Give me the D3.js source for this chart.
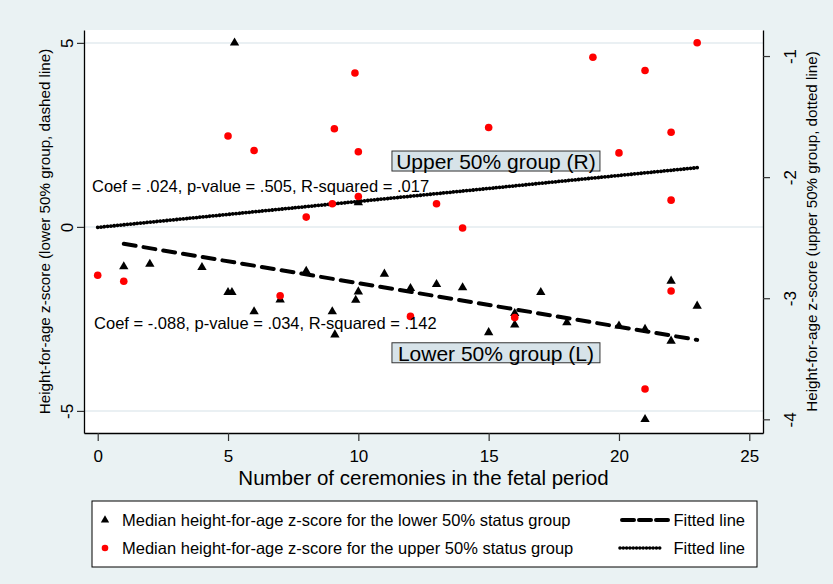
<!DOCTYPE html>
<html>
<head>
<meta charset="utf-8">
<script src="https://d3js.org/d3.v7.min.js"></script>
<style>
body { margin: 0; background: #EAF2F3; }
text { font-family: "Liberation Sans", Arial, sans-serif; fill: #000; }
</style>
</head>
<body>
<script>
// lower 50% group (left axis, triangles)
var lowerX = [1, 2, 4, 5, 5.15, 5.25, 6, 7, 8, 9, 9.1, 9.9, 10, 10, 11, 12, 13, 14, 15, 16, 16, 17, 18, 20, 21, 21, 22, 22, 23];
var lowerY = [-1.08, -1.01, -1.1, -1.78, -1.78, 5.0, -2.3, -1.98, -1.2, -2.3, -2.93, -1.99, -1.76, 0.66, -1.28, -1.67, -1.56, -1.65, -2.87, -2.35, -2.66, -1.78, -2.6, -2.69, -2.78, -5.23, -1.47, -3.1, -2.15];

// upper 50% group (right axis, red dots)
var upperX = [0, 1, 5, 6, 7, 8, 9, 9.08, 9.87, 10, 10, 12, 13, 14, 15, 16, 19, 20, 21, 21, 22, 22, 22, 23];
var upperY = [-2.81, -2.86, -1.66, -1.78, -2.98, -2.33, -2.22, -1.6, -1.14, -1.79, -2.16, -3.15, -2.22, -2.42, -1.59, -3.16, -1.01, -1.8, -1.12, -3.75, -1.63, -2.19, -2.94, -0.89];

// fitted lines (endpoints)
var fitLowerX = [1, 23], fitLowerY = [-0.46, -3.07];
var fitUpperX = [0, 23], fitUpperY = [-2.415, -1.922];

var xTicks = [0, 5, 10, 15, 20, 25];
var yLeftTicks = [-5, 0, 5];
var yRightTicks = [-4, -3, -2, -1];

var width = 833;
var height = 584;

var svgContainer = d3.select("body").append("svg")
    .attr("height", height)
    .attr("width", width);

var plot_left = 84, plot_right = 763, plot_top = 30, plot_bottom = 433;

var x = d3.scaleLinear().domain([-0.526, 25.526]).range([plot_left, plot_right]),
    yL = d3.scaleLinear().domain([-5.6, 5.35]).range([plot_bottom, plot_top]),
    yR = d3.scaleLinear().domain([-4.113, -0.785]).range([plot_bottom, plot_top]);

// plain hyphen minus like the original
var fmt = function (d) { return String(d); };

svgContainer.append("rect")
    .attr("width", width).attr("height", height)
    .attr("fill", "#EAF2F3");

svgContainer.append("rect")
    .attr("x", plot_left).attr("y", plot_top)
    .attr("width", plot_right - plot_left).attr("height", plot_bottom - plot_top)
    .attr("fill", "#fff");

// gridlines
svgContainer.selectAll(".grid")
    .data(yLeftTicks)
    .enter()
    .append("line")
    .attr("x1", plot_left).attr("x2", plot_right)
    .attr("y1", function (d) { return yL(d); })
    .attr("y2", function (d) { return yL(d); })
    .attr("stroke", "#E3EBEF")
    .attr("stroke-width", 1.5);

// axes
var leftAxis = svgContainer.append("g")
    .attr("transform", "translate(" + plot_left + ",0)")
    .call(d3.axisLeft(yL).tickValues(yLeftTicks).tickSize(7).tickSizeOuter(0).tickFormat(fmt));
leftAxis.selectAll("text")
    .attr("x", 0).attr("dy", 0)
    .attr("text-anchor", "middle")
    .attr("transform", "translate(-11,0) rotate(-90)");

var rightAxis = svgContainer.append("g")
    .attr("transform", "translate(" + plot_right + ",0)")
    .call(d3.axisRight(yR).tickValues(yRightTicks).tickSize(7).tickSizeOuter(0).tickFormat(fmt));
rightAxis.selectAll("text")
    .attr("x", 0).attr("dy", 0)
    .attr("text-anchor", "middle")
    .attr("transform", "translate(33,0) rotate(-90)");

var bottomAxis = svgContainer.append("g")
    .attr("transform", "translate(0," + plot_bottom + ")")
    .call(d3.axisBottom(x).tickValues(xTicks).tickSize(8).tickSizeOuter(0).tickFormat(fmt));
bottomAxis.selectAll("text")
    .attr("y", 29).attr("dy", 0);

svgContainer.selectAll(".domain")
    .attr("stroke", "#000")
    .attr("stroke-width", 1.3);
svgContainer.selectAll(".tick line")
    .attr("stroke", "#333")
    .attr("stroke-width", 1.2);
svgContainer.selectAll(".tick text")
    .style("font-size", "17px")
    .style("font-family", "Liberation Sans, Arial, sans-serif")
    .attr("fill", "#000");

// axis titles
svgContainer.append("text")
    .attr("transform", "translate(50," + ((plot_top + plot_bottom) / 2) + ") rotate(-90)")
    .attr("text-anchor", "middle")
    .style("font-size", "15.2px")
    .text("Height-for-age z-score (lower 50% group, dashed line)");

svgContainer.append("text")
    .attr("transform", "translate(817," + ((plot_top + plot_bottom) / 2) + ") rotate(-90)")
    .attr("text-anchor", "middle")
    .style("font-size", "15.2px")
    .text("Height-for-age z-score (upper 50% group, dotted line)");

svgContainer.append("text")
    .attr("x", (plot_left + plot_right) / 2)
    .attr("y", 485)
    .attr("text-anchor", "middle")
    .style("font-size", "20.5px")
    .text("Number of ceremonies in the fetal period");

// fitted lines
var lowerLine = d3.line()
    .x(function (d) { return x(d[0]); })
    .y(function (d) { return yL(d[1]); });
var upperLine = d3.line()
    .x(function (d) { return x(d[0]); })
    .y(function (d) { return yR(d[1]); });

svgContainer.append("path")
    .attr("d", upperLine(d3.zip(fitUpperX, fitUpperY)))
    .attr("fill", "none")
    .attr("stroke", "#000")
    .attr("stroke-width", 3.8)
    .attr("stroke-linecap", "round")
    .attr("stroke-dasharray", "0.01,3.3");

svgContainer.append("path")
    .attr("d", lowerLine(d3.zip(fitLowerX, fitLowerY)))
    .attr("fill", "none")
    .attr("stroke", "#000")
    .attr("stroke-width", 4)
    .attr("stroke-linecap", "round")
    .attr("stroke-dasharray", "12,8");

// points
svgContainer.selectAll(".tri")
    .data(d3.zip(lowerX, lowerY))
    .enter()
    .append("path")
    .attr("class", "tri")
    .attr("d", d3.symbol(d3.symbolTriangle).size(38))
    .attr("transform", function (d) {
        return "translate(" + x(d[0]) + "," + yL(d[1]) + ")";
    })
    .attr("fill", "#000");

svgContainer.selectAll(".dot")
    .data(d3.zip(upperX, upperY))
    .enter()
    .append("circle")
    .attr("class", "dot")
    .attr("cx", function (d) { return x(d[0]); })
    .attr("cy", function (d) { return yR(d[1]); })
    .attr("r", 3.8)
    .attr("fill", "#FF0000");

// annotations
var coefText = ["Coef = .024, p-value = .505, R-squared = .017", "Coef = -.088, p-value = .034, R-squared = .142"];
var coefX = [-0.22, -0.14], coefY = [1.1, -2.6];
svgContainer.selectAll(".coef")
    .data(coefText)
    .enter()
    .append("text")
    .attr("x", function (d, i) { return x(coefX[i]); })
    .attr("y", function (d, i) { return yL(coefY[i]) + 6; })
    .style("font-size", "16.5px")
    .text(function (d) { return d; });

var boxText = ["Upper 50% group (R)", "Lower 50% group (L)"];
var boxX = [15.28, 15.28], boxY = [1.79, -3.42];
boxText.forEach(function (t, i) {
    var cx = x(boxX[i]), cy = yL(boxY[i]);
    svgContainer.append("rect")
        .attr("x", cx - 104).attr("y", cy - 10)
        .attr("width", 208).attr("height", 20)
        .attr("fill", "#D7E3E9")
        .attr("stroke", "#333")
        .attr("stroke-width", 1);
    svgContainer.append("text")
        .attr("x", cx).attr("y", cy + 8)
        .attr("text-anchor", "middle")
        .style("font-size", "21px")
        .text(t);
});

// legend
var legend = svgContainer.append("g");
legend.append("rect")
    .attr("x", 92).attr("y", 501)
    .attr("width", 665).attr("height", 66)
    .attr("fill", "#fff")
    .attr("stroke", "#000")
    .attr("stroke-width", 1);

var legendLabels = ["Median height-for-age z-score for the lower 50% status group",
    "Median height-for-age z-score for the upper 50% status group"];
var legendRowY = [520, 548];

legend.append("path")
    .attr("d", d3.symbol(d3.symbolTriangle).size(30))
    .attr("transform", "translate(105," + legendRowY[0] + ")");
legend.append("circle")
    .attr("cx", 105).attr("cy", legendRowY[1]).attr("r", 3.3)
    .attr("fill", "#FF0000");

legend.selectAll(".ltext")
    .data(legendLabels)
    .enter()
    .append("text")
    .attr("x", 122)
    .attr("y", function (d, i) { return legendRowY[i] + 6; })
    .style("font-size", "16.5px")
    .text(function (d) { return d; });

legend.append("line")
    .attr("x1", 622).attr("x2", 668)
    .attr("y1", legendRowY[0]).attr("y2", legendRowY[0])
    .attr("stroke", "#000").attr("stroke-width", 4)
    .attr("stroke-linecap", "round")
    .attr("stroke-dasharray", "12,5");
legend.append("line")
    .attr("x1", 620).attr("x2", 661)
    .attr("y1", legendRowY[1]).attr("y2", legendRowY[1])
    .attr("stroke", "#000").attr("stroke-width", 3.6)
    .attr("stroke-linecap", "round")
    .attr("stroke-dasharray", "0.01,3.3");

legend.selectAll(".ftext")
    .data(["Fitted line", "Fitted line"])
    .enter()
    .append("text")
    .attr("x", 745)
    .attr("y", function (d, i) { return legendRowY[i] + 6; })
    .attr("text-anchor", "end")
    .style("font-size", "16.5px")
    .text(function (d) { return d; });
</script>
</body>
</html>
